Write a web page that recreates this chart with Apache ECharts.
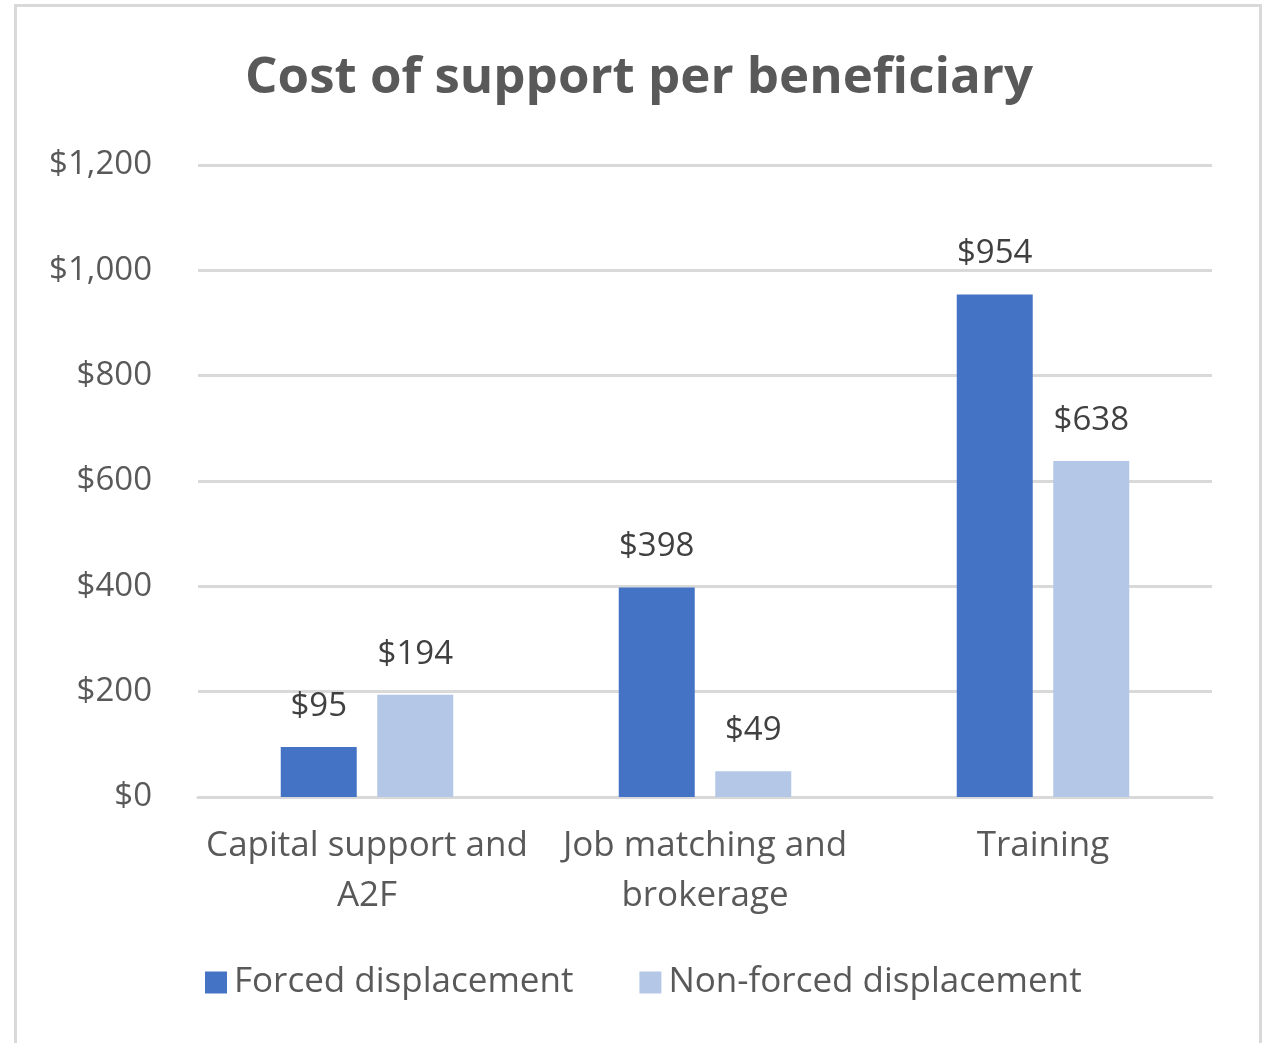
<!DOCTYPE html>
<html>
<head>
<meta charset="utf-8">
<style>
  html, body { margin: 0; padding: 0; background: #ffffff; }
  #chart { width: 1273px; height: 1043px; }
</style>
<script src="https://cdn.jsdelivr.net/npm/echarts@6/dist/echarts.min.js"></script>
</head>
<body>
<div id="chart"></div>
<script>
// Programme categories and cost per beneficiary (USD)
const categories = ['Capital support and\nA2F', 'Job matching and\nbrokerage', 'Training'];
const forcedValues = [95, 398, 954];
const nonForcedValues = [194, 49, 638];
const seriesNames = ['Forced displacement', 'Non-forced displacement'];
const yTicks = { min: 0, max: 1200, interval: 200 };

const FONT = "'Open Sans', sans-serif";
const money = v => '$' + Number(v).toLocaleString('en-US');

const chart = echarts.init(document.getElementById('chart'), null, { renderer: 'canvas' });

const labelStyle = {
  show: true,
  position: 'top',
  distance: 24,
  color: '#404040',
  fontFamily: FONT,
  fontSize: 33,
  formatter: p => money(p.value)
};

chart.setOption({
  animation: false,
  backgroundColor: '#ffffff',
  title: {
    text: 'Cost of support per beneficiary',
    left: 634,
    textAlign: 'center',
    top: 48,
    textStyle: {
      color: '#595959',
      fontFamily: FONT,
      fontWeight: 'bold',
      fontSize: 51
    }
  },
  graphic: [{
    type: 'rect',
    silent: true,
    shape: { x: 15.5, y: 5.5, width: 1245, height: 1100 },
    style: { fill: 'none', stroke: '#d9d9d9', lineWidth: 3 }
  }],
  legend: {
    data: seriesNames,
    left: 200,
    top: 960,
    itemWidth: 22,
    itemHeight: 22,
    itemGap: 66,
    icon: 'rect',
    textStyle: {
      color: '#595959',
      fontFamily: FONT,
      fontSize: 35,
      padding: [0, 0, 0, 2]
    }
  },
  grid: {
    left: 198,
    right: 61,
    top: 165,
    bottom: 246,
    containLabel: false
  },
  xAxis: {
    type: 'category',
    data: categories,
    axisLine: { show: true, lineStyle: { color: '#d9d9d9', width: 3 } },
    axisTick: { show: false },
    axisLabel: {
      color: '#595959',
      fontFamily: FONT,
      fontSize: 35,
      lineHeight: 50,
      margin: 24,
      interval: 0
    }
  },
  yAxis: {
    type: 'value',
    min: yTicks.min,
    max: yTicks.max,
    interval: yTicks.interval,
    axisLine: { show: false },
    axisTick: { show: false },
    splitLine: { lineStyle: { color: '#d9d9d9', width: 3 } },
    axisLabel: {
      color: '#595959',
      fontFamily: FONT,
      fontSize: 33,
      margin: 46,
      formatter: v => money(v)
    }
  },
  series: [
    {
      name: seriesNames[0],
      type: 'bar',
      data: forcedValues,
      barWidth: 76,
      barGap: '27%',
      itemStyle: { color: '#4472c4' },
      label: labelStyle
    },
    {
      name: seriesNames[1],
      type: 'bar',
      data: nonForcedValues,
      barWidth: 76,
      barGap: '27%',
      itemStyle: { color: '#b4c7e7' },
      label: labelStyle
    }
  ]
});
</script>
</body>
</html>
